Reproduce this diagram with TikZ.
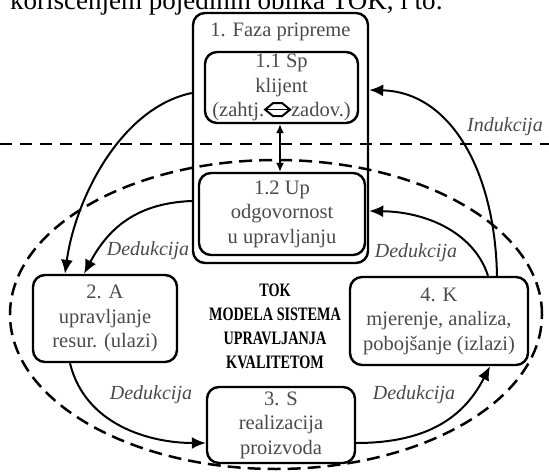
\documentclass[tikz,border=0pt]{standalone}
\usepackage{fontspec}
\setmainfont{Liberation Serif}
\newfontfamily\condfont[FakeStretch=0.75]{Liberation Serif}
\usetikzlibrary{arrows.meta}
\definecolor{txtgray}{HTML}{4A4A4A}
\newcommand{\dblarr}{\tikz[x=1pt,y=1pt,baseline=-7pt,sharp corners]{\draw[sharp corners,line width=2pt,line join=miter,black] (1,0) -- (9,6.5) -- (18,6.5) -- (26,0) -- (18,-6.5) -- (9,-6.5) -- cycle; \draw[line width=1.4pt,black] (3,0) -- (24,0);}}
\tikzset{
  box/.style={draw, line width=2.4pt, rounded corners=12pt, inner sep=0pt, align=center, text=txtgray, font=\fontsize{20.5}{24.5}\selectfont},
  flow/.style={line width=2pt, -{Latex[length=14pt,width=12pt]}},
  lbl/.style={text=txtgray, font=\fontsize{20}{24}\selectfont\itshape, inner sep=0pt},
}
\begin{document}
\begin{tikzpicture}[x=1pt,y=-1pt]
\clip (0,0) rectangle (549,473);
% top cut-off text
\node[overlay, anchor=base west, font=\fontsize{27}{30}\selectfont, inner sep=0pt] (toptext) at (10,10) {korišćenjem pojedinih oblika TOK, i to:};
% dashed lines
\coordinate (hl) at (0,144);
\coordinate (hr) at (549,144);
\draw[line width=2pt, dash pattern=on 12pt off 8pt] (hl) -- (hr);
\draw[line width=2.5pt, dash pattern=on 13pt off 7pt] (276,314.5) ellipse [x radius=266pt, y radius=154.5pt];
% boxes
\node[box, minimum width=175pt, minimum height=250pt] (faza) at (280.5,138) {};
\node[text=txtgray, font=\fontsize{20.5}{24.5}\selectfont, inner sep=0pt] (fazat) at (280.5,32) {1. Faza pripreme};
\node[box, minimum width=153pt, minimum height=71pt] (sp) at (281.5,87.5) {1.1 Sp\\klijent\\(zahtj.\dblarr zadov.)};
\node[box, minimum width=166pt, minimum height=82pt] (up) at (282,214) {1.2 Up\\odgovornost\\u upravljanju};
\node[box, minimum width=144pt, minimum height=87pt] (A) at (105,318.5) {2. A\\upravljanje\\resur. (ulazi)};
\node[box, minimum width=178pt, minimum height=88pt] (K) at (439,321) {4. K\\mjerenje, analiza,\\pobojšanje (izlazi)};
\node[box, minimum width=148pt, minimum height=76pt] (S) at (281,425) {3. S\\realizacija\\proizvoda};
\node[align=center, font=\fontsize{19}{24}\condfont\bfseries, inner sep=0pt] (tok) at (275,326) {TOK\\MODELA SISTEMA\\UPRAVLJANJA\\KVALITETOM};
% connectors
\draw[line width=1.6pt, {Latex[length=9pt,width=8pt]}-{Latex[length=9pt,width=8pt]}] ([xshift=-1.5pt]sp.south) -- ([xshift=-2pt]up.north);
\draw[flow] ([yshift=45pt]faza.west) .. controls (120,108) and (75,200) .. ([xshift=-40pt]A.north);
\draw[flow] ([yshift=-63pt]faza.west) .. controls (140,203) and (110,225) .. ([xshift=-21pt]A.north);
\draw[flow] ([xshift=58pt]K.north) .. controls (495,170) and (450,92) .. ([yshift=48pt]faza.east);
\draw[flow] ([xshift=49pt]K.north) .. controls (475,235) and (430,212) .. ([yshift=-73pt]faza.east);
\draw[flow] ([xshift=-35pt]A.south) .. controls (85,425) and (150,443) .. ([yshift=-18pt]S.west);
\draw[flow] ([yshift=-18pt]S.east) .. controls (430,443) and (465,415) .. ([xshift=51pt]K.south);
% labels
\node[lbl] (d1) at (148,251) {Dedukcija};
\node[lbl] (d2) at (416,253) {Dedukcija};
\node[lbl] (d3) at (151,395) {Dedukcija};
\node[lbl] (d4) at (414,395) {Dedukcija};
\node[lbl] (ind) at (505,127) {Indukcija};
\end{tikzpicture}
\end{document}
